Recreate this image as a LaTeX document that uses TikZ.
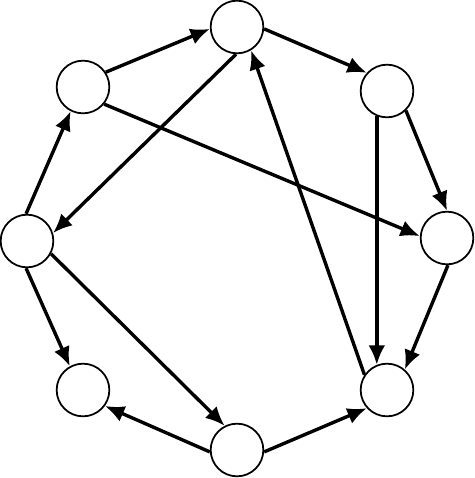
\documentclass[tikz,border=0pt]{standalone}
\usetikzlibrary{arrows.meta}
\begin{document}
\begin{tikzpicture}[x=0.03cm,y=-0.03cm,
  vertex/.style={circle,draw,line width=1.5pt,minimum size=1.58cm,inner sep=0pt},
  edge/.style={line width=2.9pt,-{Latex[length=0.58cm,width=0.5cm]}}]
\useasboundingbox (0,0) rectangle (474,478);
\node [vertex] (t)  at (237,27)  {};
\node [vertex] (ur) at (387,91)  {};
\node [vertex] (r)  at (447,238) {};
\node [vertex] (lr) at (387,390) {};
\node [vertex] (b)  at (237,450) {};
\node [vertex] (ll) at (83,390)  {};
\node [vertex] (l)  at (27,241)  {};
\node [vertex] (ul) at (83,87)   {};
% outer ring
\draw [edge] (ul.33) -- (t.184);
\draw [edge] (t.-4) -- (ur.138);
\draw [edge] (ur.-46) -- (r.90);
\draw [edge] (r.-88) -- (lr.49);
\draw [edge] (b.-4) -- (lr.222);
\draw [edge] (b.184) -- (ll.-36);
\draw [edge] (l.-92) -- (ll.119);
\draw [edge] (l.92) -- (ul.243);
% chords
\draw [edge] (ur.248) -- (lr.112);
\draw [edge] (lr.146) -- (t.-59);
\draw [edge] (l.-28) -- (b.117);
\draw [edge] (ul.-39) -- (r.176);
\draw [edge] (t.-92) -- (l.17);
\end{tikzpicture}
\end{document}
